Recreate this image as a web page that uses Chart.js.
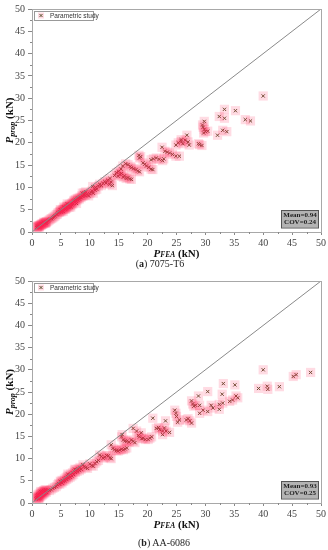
<!DOCTYPE html>
<html><head><meta charset="utf-8">
<script src="https://cdn.jsdelivr.net/npm/chart.js@4.4.1/dist/chart.umd.min.js"></script>
<style>
html,body{margin:0;padding:0;background:#fff;}
#wrap{position:relative;width:328px;height:550px;overflow:hidden;}
canvas{position:absolute;left:0;}
.cap{position:absolute;left:0;width:328px;text-align:center;font-family:"Liberation Serif","DejaVu Serif",serif;font-size:10px;color:#222;line-height:12px;}
</style></head>
<body><div id="wrap">
<canvas id="ca" width="328" height="262" style="top:0px"></canvas>
<div class="cap" style="top:258px;padding-right:8px;box-sizing:border-box;">(<b>a</b>) 7075-T6</div>
<canvas id="cb" width="328" height="262" style="top:272px"></canvas>
<div class="cap" style="top:537px;">(<b>b</b>) AA-6086</div>
</div>
<script>
const ticksX = [0,5,10,15,20,25,30,35,40,45,50];
const ticksY = [0,5,10,15,20,25,30,35,40,45,50];
const legendLabel = "Parametric study";
const statsA = ["Mean=0.94","COV=0.24"];
const statsB = ["Mean=0.93","COV=0.25"];

// Panel (a) 7075-T6 : P_FEA and P_prop (kN)
const feaA = [0.8,0.9,1.0,1.1,1.2,1.3,1.4,1.5,1.6,1.7,1.8,1.9,2.0,2.1,2.2,2.3,2.4,2.5,2.6,2.8,3.0,3.2,3.4,3.6,3.8,4.0,1.0,1.3,1.6,2.0,2.4,1.2,
4.2,4.4,4.5,4.7,4.8,5.0,5.0,5.2,5.3,5.5,5.6,5.7,5.9,6.0,6.0,6.2,6.3,6.4,6.5,6.6,6.8,6.9,7.0,7.1,7.2,7.3,7.4,7.5,7.6,7.8,7.9,8.0,8.2,8.3,8.5,8.6,8.8,9.0,9.2,8.7,9.0,5.4,5.8,6.7,7.7,6.1,4.9,5.5,
9.5,9.8,10.0,10.2,10.4,10.6,10.9,11.2,11.0,11.5,11.7,12.0,12.3,12.6,12.8,13.1,13.4,13.7,13.9,13.5,10.5,9.3,
14.3,14.6,14.9,15.2,15.5,15.8,16.0,16.3,16.6,16.9,17.2,15.0,15.4,16.6,17.0,17.2,17.6,18.0,18.3,18.6,15.7,16.2,
18.5,18.6,18.8,19.2,19.5,19.8,20.2,20.6,20.9,20.6,21.0,21.5,22.0,22.6,22.5,23.0,23.4,23.8,24.3,24.9,25.5,22.8,
24.9,25.3,25.8,26.1,26.8,27.2,27.0,28.8,29.4,29.0,25.8,26.5,
29.5,29.6,29.8,30.0,29.7,29.8,30.4,33.0,33.7,32.1,32.4,33.3,33.3,35.2,36.9,37.8,40.0];
const propA = [1.0,1.2,1.1,1.4,1.3,1.5,1.4,1.6,1.5,1.8,1.7,1.9,1.8,2.0,2.1,2.0,2.2,2.3,2.3,2.5,2.7,2.9,3.0,3.2,3.4,3.6,1.3,1.2,1.7,2.2,2.0,1.0,
3.9,4.0,4.3,4.4,4.6,4.5,4.9,4.8,5.1,5.0,5.4,5.2,5.6,5.3,5.8,5.7,6.0,5.5,6.2,5.9,6.4,6.1,6.6,6.3,6.9,7.1,6.7,7.3,7.0,7.5,7.2,7.6,7.4,7.8,7.7,8.1,8.0,8.3,8.2,8.7,8.8,4.6,5.1,5.6,6.4,6.3,5.0,5.6,
8.4,8.1,8.6,8.9,9.2,8.7,9.4,9.6,10.0,10.3,10.7,10.4,10.9,11.3,11.0,11.6,10.7,11.2,10.4,12.0,10.2,9.0,
12.7,13.3,12.5,12.9,13.1,12.3,12.6,12.0,12.2,11.9,11.8,13.6,14.1,15.1,14.7,14.4,14.2,14.0,13.7,13.5,14.8,15.3,
17.2,16.6,16.9,15.5,15.2,14.8,14.5,14.1,14.0,16.2,16.4,16.6,16.3,16.0,19.0,18.1,17.9,17.7,17.4,17.0,17.0,16.4,
19.5,20.0,20.3,19.8,21.7,19.5,20.2,19.8,19.4,19.6,20.7,20.6,
24.0,23.5,23.0,22.5,22.2,24.8,22.6,22.8,22.5,21.7,25.9,25.5,27.5,27.2,25.2,24.9,30.5];

// Panel (b) AA-6086
const feaB = [0.7,0.8,0.9,1.0,1.0,1.1,1.2,1.2,1.3,1.4,1.4,1.5,1.6,1.6,1.7,1.8,1.8,1.9,2.0,2.0,2.1,2.2,2.2,2.3,2.4,2.5,1.1,1.3,2.6,1.5,
3.0,3.3,3.6,3.9,4.2,4.4,4.6,4.8,5.0,5.2,5.2,5.4,5.6,5.7,5.9,6.0,6.1,6.3,6.4,6.6,6.7,6.9,7.0,7.2,7.3,7.5,7.6,7.8,8.0,8.2,8.3,8.5,8.8,9.0,4.9,6.2,7.4,
9.3,9.6,10.0,10.3,10.6,10.9,11.2,11.5,11.7,12.0,12.3,12.6,12.9,13.2,13.5,13.7,13.7,14.0,14.3,14.6,14.9,15.2,15.5,15.8,16.1,16.4,
15.5,15.8,15.6,16.1,16.4,16.8,17.2,17.5,17.8,17.5,18.1,18.4,18.6,19.0,19.2,19.6,20.1,20.4,20.7,18.9,
20.9,21.5,22.1,22.6,23.2,23.8,22.6,22.9,23.1,21.9,24.7,24.9,25.2,25.5,25.0,26.7,27.3,27.6,27.0,29.0,29.6,30.4,31.3,32.4,28.0,
27.6,27.8,28.3,29.0,31.0,28.8,30.4,32.9,35.3,35.6,34.7,34.2,33.0,32.4,33.1,35.1,39.2,40.7,40.8,42.8,40.0,45.2,45.7,48.2];
const propB = [0.9,1.2,1.5,1.1,1.8,1.4,2.0,1.2,1.6,2.2,1.4,1.9,2.4,1.6,2.1,2.6,1.8,2.3,2.8,2.0,2.5,2.9,2.2,2.6,3.0,2.4,1.0,1.1,2.8,2.6,
2.8,3.0,3.3,3.5,3.7,4.1,4.4,4.2,4.7,4.5,5.1,4.9,5.4,5.0,5.7,5.3,6.0,5.6,6.2,5.8,6.5,6.1,6.8,6.4,7.2,6.9,7.5,7.1,7.7,7.3,8.0,7.6,8.6,8.2,4.9,6.5,7.6,
8.0,7.8,8.8,8.4,8.3,8.9,9.3,9.6,10.8,10.5,10.1,10.3,10.7,10.6,10.2,10.0,13.1,12.3,12.0,11.8,11.7,11.9,12.1,12.0,12.2,12.4,
14.9,14.2,15.4,14.0,13.9,13.7,14.2,13.9,13.6,16.8,16.2,15.2,14.9,14.5,14.6,14.3,14.3,14.6,14.9,15.8,
19.1,16.8,16.5,16.2,16.2,15.9,15.4,16.9,18.5,17.0,20.9,20.2,18.2,18.7,19.5,18.7,18.5,18.0,19.0,20.2,20.9,20.6,21.4,21.1,21.8,
23.0,22.3,22.0,22.0,22.0,24.1,25.1,24.5,24.1,23.7,23.2,22.9,22.5,22.2,26.9,26.6,25.8,26.3,25.6,26.2,30.0,28.5,28.9,29.4];

const HALO = 'rgba(255,30,80,0.16)';
const CROSS = '#5b5430';
const SERIF = '"Liberation Serif","DejaVu Serif",serif';

function pts(xs, ys){ return xs.map((x,i)=>({x:x,y:ys[i]})); }

function decor(stats){
  return {
    id:'decor',
    afterDraw(chart){
      const ctx = chart.ctx, a = chart.chartArea;
      const xs = chart.scales.x, ys = chart.scales.y;
      ctx.save();
      ctx.strokeStyle = '#a8a8a8'; ctx.lineWidth = 1;
      ctx.strokeRect(Math.round(a.left)+0.5, Math.round(a.top)+0.5, Math.round(a.right-a.left), Math.round(a.bottom-a.top));
      ctx.strokeStyle = '#888';
      ctx.beginPath();
      for (let v=2.5; v<50; v+=5){
        const px = Math.round(xs.getPixelForValue(v))+0.5;
        ctx.moveTo(px, a.bottom); ctx.lineTo(px, a.bottom+2);
        const py = Math.round(ys.getPixelForValue(v))+0.5;
        ctx.moveTo(a.left, py); ctx.lineTo(a.left-2, py);
      }
      ctx.stroke();
      // legend box
      const lx = a.left+2, ly = a.top+2;
      ctx.fillStyle = '#fff'; ctx.fillRect(lx, ly, 59, 9);
      ctx.strokeStyle = '#999'; ctx.strokeRect(lx+0.5, ly+0.5, 59, 9);
      ctx.fillStyle = HALO; ctx.fillRect(lx+4, ly+1.5, 6, 6);
      ctx.strokeStyle = CROSS; ctx.beginPath();
      ctx.moveTo(lx+5.5, ly+3); ctx.lineTo(lx+8.5, ly+6); ctx.moveTo(lx+8.5, ly+3); ctx.lineTo(lx+5.5, ly+6); ctx.stroke();
      ctx.fillStyle = '#333'; ctx.font = '6.5px "Liberation Sans",Arial,sans-serif';
      ctx.textBaseline = 'middle'; ctx.textAlign = 'left';
      ctx.fillText(legendLabel, lx+16, ly+5);
      // stats box
      const bx = a.right-40, by = a.bottom-22, bw = 37, bh = 17.5;
      ctx.fillStyle = '#b3b3b3'; ctx.fillRect(bx, by, bw, bh);
      ctx.strokeStyle = '#555'; ctx.strokeRect(bx+0.5, by+0.5, bw, bh);
      ctx.fillStyle = '#222'; ctx.font = 'bold 7px '+SERIF; ctx.textAlign = 'center';
      ctx.fillText(stats[0], bx+bw/2+0.5, by+5);
      ctx.fillText(stats[1], bx+bw/2+0.5, by+12.5);
      // x title
      ctx.fillStyle = '#111'; ctx.textBaseline = 'alphabetic'; ctx.textAlign = 'left';
      const parts = [['bold italic 11px ','P'],['bold italic 7.5px ','FEA'],['bold 11px ',' (kN)']];
      let tw = 0; parts.forEach(p=>{ctx.font=p[0]+SERIF; tw+=ctx.measureText(p[1]).width;});
      let cx = (a.left+a.right)/2 - tw/2; const ty = a.bottom+25;
      parts.forEach(p=>{ctx.font=p[0]+SERIF; ctx.fillText(p[1], cx, ty); cx+=ctx.measureText(p[1]).width;});
      // y title
      ctx.translate(12.5, (a.top+a.bottom)/2); ctx.rotate(-Math.PI/2);
      const yp = [['bold italic 11px ','P',0],['bold italic 8px ','prop',2.5],['bold 11px ',' (kN)',0]];
      tw = 0; yp.forEach(p=>{ctx.font=p[0]+SERIF; tw+=ctx.measureText(p[1]).width;});
      cx = -tw/2;
      yp.forEach(p=>{ctx.font=p[0]+SERIF; ctx.fillText(p[1], cx, p[2]); cx+=ctx.measureText(p[1]).width;});
      ctx.restore();
    }
  };
}

function makeChart(id, xs, ys, stats, topPad, xH){
  const data = pts(xs, ys);
  const tickFont = {family: SERIF, size: 10};
  return new Chart(document.getElementById(id), {
    type:'scatter',
    data:{datasets:[
      {type:'line', data:[{x:0,y:0},{x:50,y:50}], borderColor:'#8a8a8a', borderWidth:1, pointRadius:0, fill:false},
      {data:data, pointStyle:'rect', pointRadius:6.5, backgroundColor:HALO, borderWidth:0, pointBorderWidth:0},
      {data:data, pointStyle:'crossRot', pointRadius:2.3, borderColor:CROSS, pointBorderWidth:1, backgroundColor:CROSS}
    ]},
    options:{
      responsive:false, animation:false, devicePixelRatio:1,
      layout:{padding:{top:topPad, right:5, left:0, bottom:0}},
      plugins:{legend:{display:false}, tooltip:{enabled:false}},
      scales:{
        x:{type:'linear', min:0, max:50, afterBuildTicks:s=>{s.ticks = ticksX.map(v=>({value:v}));},
           ticks:{font:tickFont, color:'#444', padding:2, maxRotation:0, autoSkip:false},
           grid:{drawOnChartArea:false, drawTicks:true, tickLength:3, color:'#888'},
           border:{display:true, color:'#a8a8a8'},
           afterFit:s=>{s.height = xH;}},
        y:{type:'linear', min:0, max:50, afterBuildTicks:s=>{s.ticks = ticksY.map(v=>({value:v}));},
           ticks:{font:tickFont, color:'#444', padding:3, autoSkip:false},
           grid:{drawOnChartArea:false, drawTicks:true, tickLength:4, color:'#888'},
           border:{display:true, color:'#a8a8a8'},
           afterFit:s=>{s.width = 32;}}
      }
    },
    plugins:[decor(stats)]
  });
}
makeChart('ca', feaA, propA, statsA, 5, 30);
makeChart('cb', feaB, propB, statsB, 9, 31);
</script>
</body></html>
